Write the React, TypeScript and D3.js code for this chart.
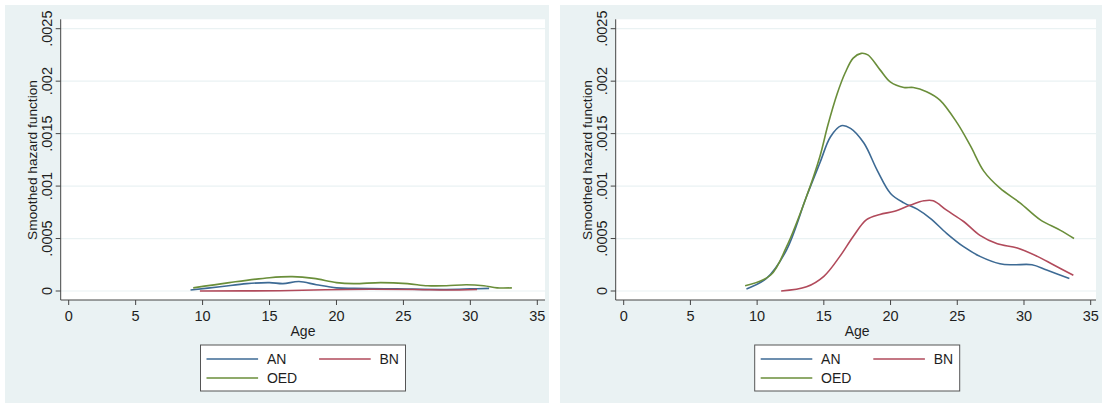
import React from "react";
import * as d3 from "d3";

const xTicks = [0, 5, 10, 15, 20, 25, 30, 35];
const yTicks = [0, 0.0005, 0.001, 0.0015, 0.002, 0.0025];
const yTickLabels = ["0", ".0005", ".001", ".0015", ".002", ".0025"];
const seriesNames = ["AN", "BN", "OED"];
const seriesColors = ["#3d6a94", "#b14a5b", "#6a8e3a"];

// left panel: [age, hazard]
const leftAN = [
  [9.1, 0.00001], [11.3, 0.00004], [13.3, 0.00007], [15.0, 0.00008], [16.0, 0.00007],
  [17.2, 0.00009], [18.5, 0.00006], [20.0, 0.00003], [21.3, 0.000025], [24.5, 0.00002],
  [28.2, 0.000015], [30.0, 0.00002], [31.4, 0.000025],
];
const leftBN = [
  [9.8, 0.0], [15.8, 0.000003], [20.8, 0.000015], [25.8, 0.000015], [28.2, 0.00001], [30.5, 0.000015],
];
const leftOED = [
  [9.3, 0.00003], [12.0, 0.00008], [15.0, 0.000127], [16.7, 0.000137], [18.3, 0.00012],
  [20.0, 0.00008], [21.3, 0.00007], [23.3, 0.00008], [25.3, 0.00007], [26.8, 0.00005],
  [28.2, 0.00005], [29.7, 0.00006], [31.0, 0.00005], [32.0, 0.00003], [33.1, 0.00003],
];

// right panel: [age, hazard]
const rightAN = [
  [9.2, 0.00002], [10.7, 0.00012], [12.2, 0.00039], [13.7, 0.0009], [14.7, 0.00122],
  [15.5, 0.00147], [16.3, 0.001575], [17.0, 0.00155], [18.0, 0.00141], [19.0, 0.00115],
  [20.0, 0.00093], [21.0, 0.00084], [22.0, 0.00078], [23.0, 0.00069], [24.2, 0.00055],
  [25.5, 0.00042], [26.7, 0.00033], [28.2, 0.00026], [29.2, 0.00025], [30.6, 0.00025],
  [31.7, 0.0002], [33.4, 0.00012],
];
const rightBN = [
  [11.8, 0.0], [13.7, 0.00004], [15.0, 0.00014], [16.2, 0.00033], [17.2, 0.00052],
  [18.2, 0.00068], [19.2, 0.00073], [20.3, 0.00076], [21.5, 0.00082], [22.5, 0.00086],
  [23.2, 0.00086], [24.2, 0.00077], [25.5, 0.00066], [26.7, 0.00053], [28.0, 0.00045],
  [29.5, 0.00041], [31.0, 0.00033], [32.2, 0.00025], [33.7, 0.00015],
];
const rightOED = [
  [9.1, 0.00005], [11.0, 0.00015], [12.2, 0.00042], [13.7, 0.0009], [14.7, 0.00128],
  [15.3, 0.00158], [16.0, 0.00188], [16.6, 0.00208], [17.2, 0.00222], [17.8, 0.002265],
  [18.3, 0.00225], [19.2, 0.00211], [20.0, 0.00199], [21.0, 0.00194], [21.7, 0.00194],
  [22.7, 0.0019], [23.7, 0.00182], [25.0, 0.0016], [26.0, 0.00138], [27.0, 0.00114],
  [28.2, 0.00098], [29.7, 0.00084], [31.2, 0.00068], [32.7, 0.00058], [33.75, 0.0005],
];

const font = "'Liberation Sans', Arial, sans-serif";

function Panel({ bgX, bgW, axisX, right, x0, x35, series }) {
  const x = d3.scaleLinear().domain([0, 35]).range([x0, x35]);
  const y = d3.scaleLinear().domain([0, 0.0025]).range([291, 28.7]);
  const top = 19.3;
  const bottom = 300;
  const line = d3
    .line()
    .x((d) => x(d[0]))
    .y((d) => y(d[1]))
    .curve(d3.curveCatmullRom.alpha(0.5));
  const cx = (x0 + x35) / 2;
  const lgX = cx - 102.5;

  return (
    <g fontFamily={font} fill="#1e1e1e">
      <rect x={bgX} y={5} width={bgW} height={398} fill="#eaf2f3" />
      <rect x={axisX} y={top} width={right - axisX} height={bottom - top} fill="#ffffff" />
      {yTicks.map((t) => (
        <line key={"g" + t} x1={axisX} x2={right} y1={y(t)} y2={y(t)} stroke="#eaf2f3" strokeWidth={1.2} />
      ))}
      {series.map((s, i) => (
        <path key={i} d={line(s)} fill="none" stroke={seriesColors[i]} strokeWidth={1.6} />
      ))}
      <line x1={axisX} x2={axisX} y1={top} y2={bottom} stroke="#444" strokeWidth={1} />
      <line x1={axisX} x2={right} y1={bottom} y2={bottom} stroke="#444" strokeWidth={1} />
      {yTicks.map((t, i) => (
        <g key={"y" + t}>
          <line x1={axisX - 5} x2={axisX} y1={y(t)} y2={y(t)} stroke="#444" />
          <text
            transform={`translate(${axisX - 9},${y(t)}) rotate(-90)`}
            textAnchor="middle"
            fontSize={14.5}
          >
            {yTickLabels[i]}
          </text>
        </g>
      ))}
      {xTicks.map((t) => (
        <g key={"x" + t}>
          <line x1={x(t)} x2={x(t)} y1={bottom} y2={bottom + 5} stroke="#444" />
          <text x={x(t)} y={321} textAnchor="middle" fontSize={14.5}>
            {t}
          </text>
        </g>
      ))}
      <text x={cx} y={336} textAnchor="middle" fontSize={14}>
        Age
      </text>
      <text
        transform={`translate(${axisX - 24},${160}) rotate(-90)`}
        textAnchor="middle"
        fontSize={13.7}
      >
        Smoothed hazard function
      </text>
      <rect x={lgX} y={345} width={205} height={46} fill="#fff" stroke="#555" strokeWidth={1} />
      {[
        { i: 0, lx: 6, ly: 359 },
        { i: 1, lx: 118.6, ly: 359 },
        { i: 2, lx: 6, ly: 378 },
      ].map(({ i, lx, ly }) => (
        <g key={"l" + i}>
          <line x1={lgX + lx} x2={lgX + lx + 51.6} y1={ly} y2={ly} stroke={seriesColors[i]} strokeWidth={1.6} />
          <text x={lgX + lx + 60.4} y={ly + 5} fontSize={14}>
            {seriesNames[i]}
          </text>
        </g>
      ))}
    </g>
  );
}

export default function App() {
  return (
    <svg width={1102} height={407} style={{ position: "absolute", left: 0, top: 0 }}>
      <rect width={1102} height={407} fill="#fff" />
      <Panel bgX={5} bgW={544} axisX={60.7} right={545} x0={68.7} x35={537.3} series={[leftAN, leftBN, leftOED]} />
      <Panel bgX={560} bgW={542} axisX={615.7} right={1096} x0={623.7} x35={1090.7} series={[rightAN, rightBN, rightOED]} />
    </svg>
  );
}
